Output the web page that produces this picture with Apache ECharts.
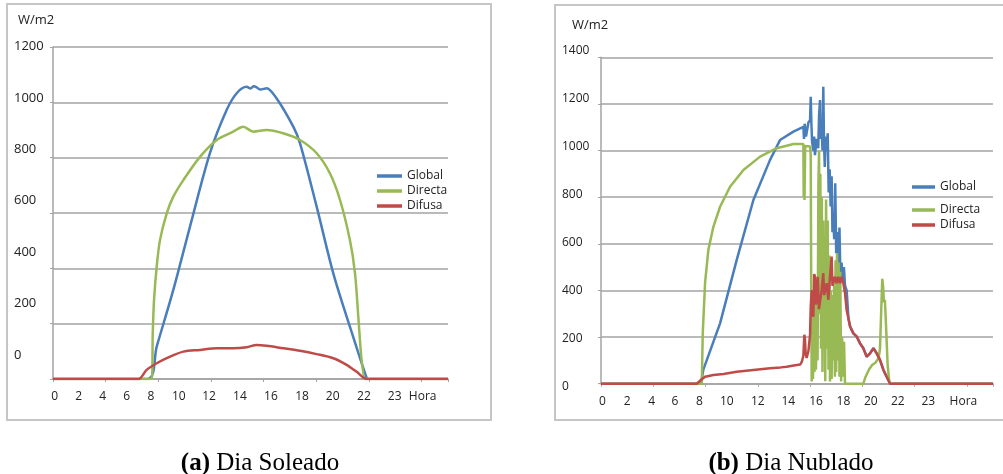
<!DOCTYPE html>
<html>
<head>
<meta charset="utf-8">
<script src="https://cdn.jsdelivr.net/npm/echarts@6/dist/echarts.min.js"></script>
<style>
html, body { margin: 0; padding: 0; background: #fff; }
#main { width: 1003px; height: 474px; }
</style>
</head>
<body>
<div id="main"></div>
<script>
// etiquetas del eje horizontal (tal como aparecen en la figura)
var hourLabels = ['0', '2', '4', '6', '8', '10', '12', '14', '16', '18', '20', '22', '23', 'Hora'];

// (a) Dia Soleado : [hora, W/m2]
var solGlobal = [[0, 0], [5.75, 0], [6.30, 117], [7.31, 322], [8.32, 550], [9.54, 817], [10.55, 972],
	[11.16, 1033], [11.77, 1056], [12.0, 1050], [12.2, 1058], [12.38, 1054], [12.6, 1046], [12.98, 1051],
	[13.59, 1014], [14.60, 912], [15.01, 852], [16.02, 623], [17.03, 382], [18.04, 189], [19.06, 3],
	[19.15, 0], [24, 0]];
var solDirecta = [[0, 0], [6.00, 0], [6.06, 165], [6.14, 286], [6.30, 406], [6.50, 502], [6.91, 599],
	[7.31, 659], [7.92, 719], [8.93, 803], [9.95, 864], [10.95, 894], [11.56, 912], [12.17, 894],
	[12.98, 900], [13.99, 888], [15.01, 864], [16.02, 816], [16.83, 743], [17.44, 647], [18.04, 502],
	[18.35, 382], [18.55, 225], [18.75, 69], [18.96, 0], [19.05, 0], [24, 0]];
var solDifusa = [[0, 0], [5.18, 0], [5.69, 33], [6.30, 57], [7.11, 81], [7.92, 99], [8.93, 105],
	[9.95, 111], [10.95, 111], [11.77, 115], [12.38, 123], [12.98, 120], [13.99, 111], [15.01, 102],
	[16.02, 90], [17.03, 75], [17.84, 51], [18.45, 26], [19.06, 0], [19.2, 0], [24, 0]];

// (b) Dia Nublado : [hora, W/m2]
var nubGlobal = [[0, 0], [6.12, 0], [6.26, 59], [7.29, 259], [8.31, 531], [9.33, 788], [10.35, 960],
	[10.96, 1045], [11.78, 1081], [12.39, 1102], [12.43, 1050], [12.47, 1115], [12.55, 1060], [12.70, 1120],
	[12.80, 1130], [12.84, 1231], [12.88, 1120], [12.92, 1040], [13.00, 1000], [13.05, 1060], [13.10, 980],
	[13.20, 1050], [13.30, 1010], [13.35, 1150], [13.41, 1217], [13.45, 1050], [13.50, 1120], [13.56, 1000],
	[13.61, 1274], [13.65, 1050], [13.70, 930], [13.76, 1060], [13.82, 1000], [13.88, 1074], [13.94, 820],
	[14.00, 920], [14.06, 760], [14.12, 890], [14.17, 650], [14.22, 700], [14.28, 620], [14.34, 860],
	[14.40, 560], [14.47, 650], [14.53, 500], [14.60, 670], [14.66, 450], [14.73, 520], [14.80, 430],
	[14.87, 500], [14.94, 420], [15.04, 400], [15.15, 280], [15.25, 245], [15.45, 216], [15.66, 202],
	[15.86, 173], [16.06, 152], [16.27, 116], [16.47, 130], [16.68, 152], [16.88, 130], [17.08, 102],
	[17.29, 59], [17.49, 30], [17.70, 0], [24, 0]];
var nubDirecta = [[0, 0], [6.17, 0], [6.23, 216], [6.37, 431], [6.57, 573], [6.88, 673], [7.29, 759],
	[7.90, 845], [8.72, 917], [9.74, 974], [10.76, 1010], [11.78, 1028], [12.39, 1028], [12.41, 800],
	[12.43, 1020], [12.46, 788], [12.50, 1020], [12.80, 1017], [12.84, 980], [12.87, 400], [12.90, 10],
	[12.94, 250], [12.98, 20], [13.03, 300], [13.07, 50], [13.12, 380], [13.16, 60], [13.21, 300],
	[13.26, 100], [13.31, 850], [13.35, 1000], [13.39, 300], [13.43, 900], [13.47, 150], [13.52, 800],
	[13.56, 50], [13.61, 700], [13.65, 200], [13.70, 600], [13.73, 10], [13.78, 790], [13.83, 150],
	[13.88, 700], [13.93, 60], [13.98, 550], [14.02, 10], [14.07, 400], [14.12, 20], [14.17, 380],
	[14.22, 100], [14.27, 420], [14.32, 30], [14.36, 530], [14.40, 50], [14.45, 560], [14.50, 100],
	[14.55, 520], [14.60, 30], [14.65, 480], [14.70, 10], [14.76, 200], [14.82, 30], [14.88, 180],
	[14.94, 0], [16.06, 0], [16.2, 30], [16.4, 60], [16.6, 80], [16.8, 90], [17.00, 110], [17.08, 150],
	[17.15, 300], [17.22, 450], [17.27, 420], [17.32, 350], [17.38, 360], [17.45, 250], [17.55, 80],
	[17.65, 10], [17.70, 0], [24, 0]];
var nubDifusa = [[0, 0], [5.86, 0], [6.10, 15], [6.37, 30], [6.88, 37], [7.5, 42], [8.31, 51], [9.33, 59],
	[10.35, 66], [11.0, 70], [11.37, 73], [11.8, 78], [12.19, 82], [12.30, 95], [12.39, 120], [12.45, 210],
	[12.49, 190], [12.53, 130], [12.59, 110], [12.70, 140], [12.80, 210], [12.84, 330], [12.90, 402],
	[12.95, 300], [13.00, 287], [13.05, 470], [13.10, 459], [13.15, 340], [13.20, 360], [13.27, 459],
	[13.34, 320], [13.41, 316], [13.51, 402], [13.61, 474], [13.66, 380], [13.71, 388], [13.82, 431],
	[13.92, 360], [14.02, 459], [14.12, 545], [14.17, 420], [14.22, 417], [14.33, 459], [14.43, 431],
	[14.53, 459], [14.63, 431], [14.73, 459], [14.84, 431], [14.94, 388], [15.04, 316], [15.15, 280],
	[15.25, 245], [15.45, 216], [15.66, 202], [15.86, 173], [16.06, 152], [16.27, 116], [16.47, 130],
	[16.68, 152], [16.88, 130], [17.08, 102], [17.29, 59], [17.49, 30], [17.70, 0], [24, 0]];

// donde cae cada etiqueta horaria (en horas del eje real)
var solLabelPos = [0.1, 1.56, 3.02, 4.48, 5.95, 7.64, 9.48, 11.36, 13.24, 15.13, 16.99, 18.89, 20.76, 22.46];
var nubLabelPos = [0.08, 1.61, 3.10, 4.53, 6.02, 7.70, 9.60, 11.47, 13.17, 14.84, 16.52, 18.17, 20.04, 22.19];

var colors = { Global: '#4a7ebb', Directa: '#98b954', Difusa: '#be4b48' };
var gridColor = '#a3a3a3';
var font = 'Open Sans';

function pickLabel(pos) {
	return function(v) {
		var best = 0;
		for (var i = 1; i < pos.length; i++) {
			if (Math.abs(pos[i] - v) < Math.abs(pos[best] - v)) best = i;
		}
		return hourLabels[best];
	};
}

function mainX(grid) {
	return {
		type: 'value', gridIndex: grid, min: 0, max: 24, interval: 3.2,
		axisLine: { show: true, lineStyle: { color: gridColor, width: 1.5 } },
		axisTick: { show: true, length: 3, lineStyle: { color: gridColor } },
		axisLabel: { show: false },
		splitLine: { show: false }
	};
}

function labelX(grid, pos) {
	return {
		type: 'value', gridIndex: grid, min: 0, max: 24, position: 'bottom',
		axisLine: { show: false }, axisTick: { show: false }, splitLine: { show: false },
		axisLabel: {
			show: true, customValues: pos, formatter: pickLabel(pos), margin: 12,
			fontFamily: font, fontSize: 12, color: '#222'
		}
	};
}

function mainY(grid, max) {
	return {
		type: 'value', gridIndex: grid, min: 0, max: max, interval: 200,
		axisLine: { show: true, lineStyle: { color: gridColor, width: 1.5 } },
		axisTick: { show: true, length: 3, lineStyle: { color: gridColor } },
		axisLabel: { show: false },
		splitLine: { show: true, lineStyle: { color: gridColor, width: 1.5 } }
	};
}

function labelY(grid, max, size) {
	return {
		type: 'value', gridIndex: grid, min: 0, max: max, interval: 200,
		axisLine: { show: false }, axisTick: { show: false }, splitLine: { show: false },
		axisLabel: {
			show: true, align: 'left', margin: 39, fontFamily: font, fontSize: size, color: '#222',
			formatter: function(v) { return String(v); }
		}
	};
}

function serie(name, data, xi, yi, smooth) {
	return {
		name: name, type: 'line', data: data, xAxisIndex: xi, yAxisIndex: yi,
		showSymbol: false, silent: true, smooth: smooth,
		lineStyle: { color: colors[name], width: 2.5 },
		itemStyle: { color: colors[name] }
	};
}

function legendItem(name, left, cy, w) {
	return {
		data: [name], left: left, top: cy - 7, icon: 'rect', itemWidth: w, itemHeight: 3.5,
		selectedMode: false,
		textStyle: { fontFamily: font, fontSize: 12, color: '#222', lineHeight: 14 }
	};
}

var chart = echarts.init(document.getElementById('main'));

var option = {
	animation: false,
	backgroundColor: '#fff',
	grid: [
		{ left: 53, top: 47, width: 395, height: 332 },
		{ left: 53, top: 46.5, width: 395, height: 308.5 },
		{ left: 601, top: 57.3, width: 392, height: 326.4 },
		{ left: 601, top: 50.7, width: 392, height: 336 }
	],
	xAxis: [
		mainX(0), labelX(0, solLabelPos), { type: 'value', gridIndex: 1, show: false },
		mainX(2), labelX(2, nubLabelPos), { type: 'value', gridIndex: 3, show: false }
	],
	yAxis: [
		mainY(0, 1200), labelY(1, 1200, 13),
		mainY(2, 1400), labelY(3, 1400, 12)
	],
	legend: [
		legendItem('Global', 372, 171, 25),
		legendItem('Directa', 372, 186, 25),
		legendItem('Difusa', 372, 201, 25),
		legendItem('Global', 907, 182, 23),
		legendItem('Directa', 907, 205, 23),
		legendItem('Difusa', 907, 220, 23)
	],
	title: [
		{
			text: '{b|(a)} Dia Soleado', left: 255, top: 446, textAlign: 'center',
			textStyle: {
				fontFamily: 'Liberation Serif', fontSize: 25, fontWeight: 'normal', color: '#000',
				rich: { b: { fontFamily: 'Liberation Serif', fontSize: 25, fontWeight: 'bold', color: '#000' } }
			}
		},
		{
			text: '{b|(b)} Dia Nublado', left: 786, top: 446, textAlign: 'center',
			textStyle: {
				fontFamily: 'Liberation Serif', fontSize: 25, fontWeight: 'normal', color: '#000',
				rich: { b: { fontFamily: 'Liberation Serif', fontSize: 25, fontWeight: 'bold', color: '#000' } }
			}
		}
	],
	graphic: [
		{ type: 'rect', shape: { x: 7, y: 4, width: 484, height: 416 }, style: { fill: 'none', stroke: '#c6c6c6', lineWidth: 2 }, silent: true },
		{ type: 'rect', shape: { x: 555, y: 5, width: 460, height: 415 }, style: { fill: 'none', stroke: '#c6c6c6', lineWidth: 2 }, silent: true },
		{ type: 'text', left: 18, top: 14, style: { text: 'W/m2', font: '13px "Open Sans"', fill: '#222' } },
		{ type: 'text', left: 572, top: 19, style: { text: 'W/m2', font: '13px "Open Sans"', fill: '#222' } }
	],
	series: [
		serie('Global', solGlobal, 0, 0, 0.3),
		serie('Directa', solDirecta, 0, 0, 0.3),
		serie('Difusa', solDifusa, 0, 0, 0.3),
		serie('Global', nubGlobal, 3, 2, false),
		serie('Directa', nubDirecta, 3, 2, false),
		serie('Difusa', nubDifusa, 3, 2, false)
	]
};

chart.setOption(option);
</script>
</body>
</html>
